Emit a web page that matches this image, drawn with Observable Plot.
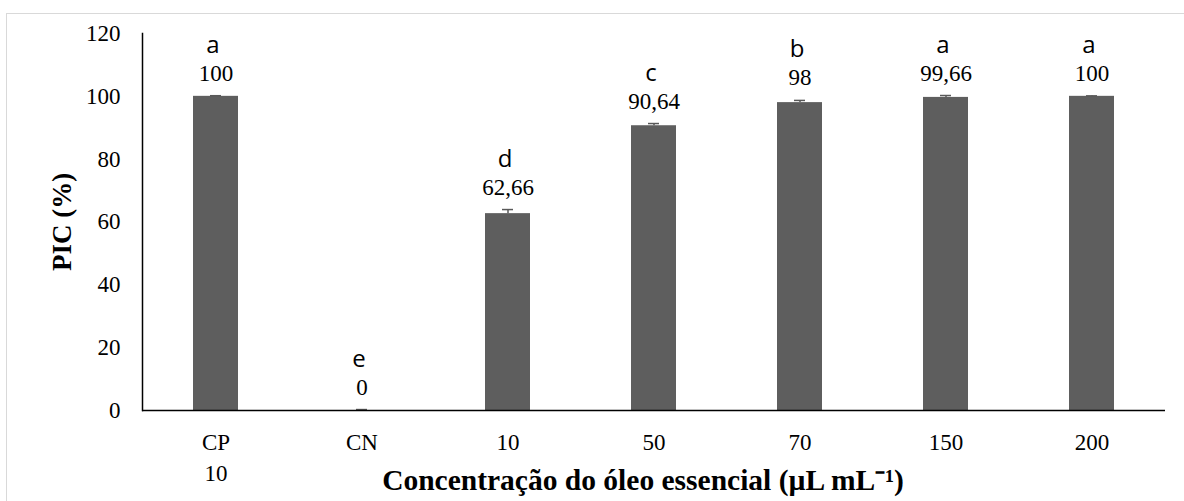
<!DOCTYPE html>
<html><head><meta charset="utf-8">
<script src="https://cdn.jsdelivr.net/npm/d3@7"></script>
<script src="https://cdn.jsdelivr.net/npm/@observablehq/plot@0.6"></script>
<style>
html,body{margin:0;padding:0;background:#fff;}
#wrap{position:relative;width:1184px;height:501px;overflow:hidden;}
#border{position:absolute;left:6px;top:13px;right:-10px;bottom:-10px;border-left:1.5px solid #d9d9d9;border-top:1.5px solid #d9d9d9;}
#chart{position:absolute;left:0;top:0;}
</style></head><body>
<div id="wrap"><div id="border"></div><div id="chart"></div></div>
<script>
const categories = ["CP", "CN", "10", "50", "70", "150", "200"];
const tickLabels = ["CP\n10", "CN", "10", "50", "70", "150", "200"];
const values = [100, 0, 62.66, 90.64, 98, 99.66, 100];
const errors = [0.2, 0.3, 1.3, 0.7, 0.7, 0.6, 0.15];
const letters = ["a", "e", "d", "c", "b", "a", "a"];
const yTicks = [0, 20, 40, 60, 80, 100, 120];
const yTitle = "PIC (%)";
const xTitle = "Concentração do óleo essencial (µL mL⁻¹)";

const data = categories.map((c, i) => ({
  cat: c, tick: tickLabels[i], val: values[i], err: errors[i], letter: letters[i],
  label: String(values[i]).replace(".", ",")
}));

const serif = "Liberation Serif";
const sans = "Open Sans";

const chart = Plot.plot({
  width: 1184,
  height: 501,
  marginLeft: 142,
  marginRight: 19,
  marginTop: 33,
  marginBottom: 91,
  style: {fontFamily: serif, fontSize: "23px", color: "black", background: "transparent"},
  x: {domain: categories, paddingInner: 0.69, paddingOuter: 0.345, axis: null},
  y: {domain: [0, 120], axis: null},
  marks: [
    Plot.barY(data, {x: "cat", y: "val", fill: "#5e5e5e"}),
    Plot.ruleX(data, {x: "cat", y1: "val", y2: d => d.val + d.err, stroke: "#595959", strokeWidth: 1.5}),
    Plot.tickY(data, {x: "cat", y: d => d.val + d.err, stroke: "#595959", strokeWidth: 1.5, insetLeft: 17, insetRight: 17}),
    Plot.ruleY([0], {stroke: "black", strokeWidth: 1.5}),
    Plot.frame({anchor: "left", stroke: "black", strokeWidth: 1.5}),
    Plot.axisY({ticks: yTicks, tickSize: 0, tickPadding: 22, label: null, fontSize: 23, fontFamily: serif}),
    Plot.text(data, {x: "cat", text: "tick", frameAnchor: "bottom", lineAnchor: "top", dy: 17, lineHeight: 1.35, fontSize: 23, fontFamily: serif, fill: "black"}),
    Plot.text(data, {x: "cat", y: d => d.val + d.err, text: "label", lineAnchor: "bottom", dy: -15, fontSize: 23, fontFamily: serif, fill: "black"}),
    Plot.text(data, {x: "cat", y: d => d.val + d.err, text: "letter", lineAnchor: "bottom", dy: -43, dx: -3, fontSize: 24, fontFamily: sans, fill: "black"}),
    Plot.text([yTitle], {frameAnchor: "left", textAnchor: "middle", rotate: -90, dx: -80, fontWeight: "bold", fontSize: 27, fontFamily: serif, fill: "black"}),
    Plot.text([xTitle], {frameAnchor: "bottom", textAnchor: "middle", dy: 79, dx: -11, fontWeight: "bold", fontSize: 29.5, fontFamily: serif, fill: "black"})
  ]
});
document.getElementById("chart").appendChild(chart);
</script>
</body></html>
